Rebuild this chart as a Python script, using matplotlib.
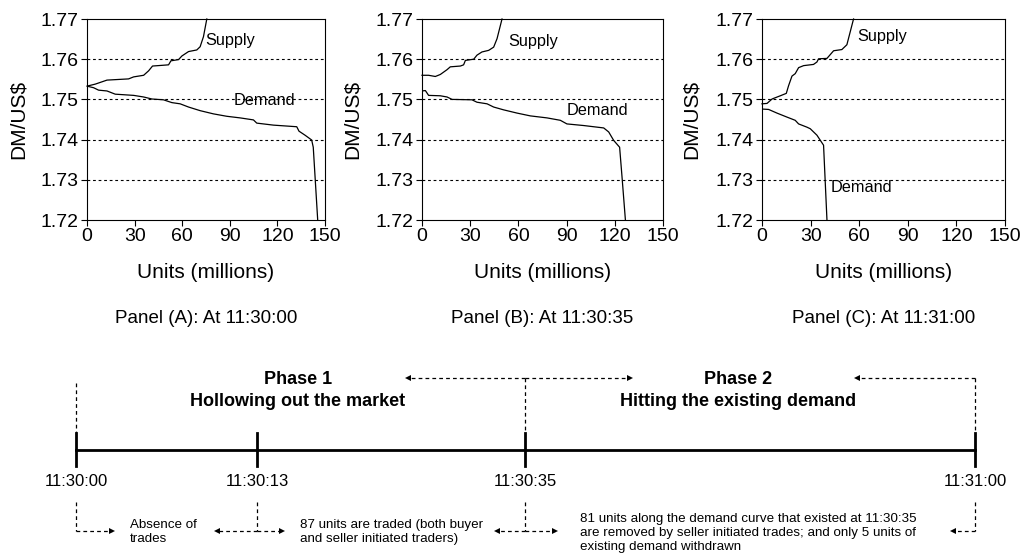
import matplotlib.pyplot as plt
import numpy as np

plt.rcParams['font.family'] = ['Liberation Sans', 'DejaVu Sans']

# --- order book curves (units in millions, DM/US$) ---
supply_a_x = [0, 5.2, 12.6, 26.2, 29.4, 35.7, 38.8, 41.3, 48.2, 51.4, 52.9, 57.7, 59.8, 64.0, 69.2, 71.3, 73.4, 75.5]
supply_a_y = [1.7533, 1.7538, 1.7548, 1.7551, 1.7556, 1.7560, 1.7571, 1.7583, 1.7585, 1.7586, 1.7596, 1.7599,
              1.7608, 1.7619, 1.7623, 1.7631, 1.7656, 1.77]
demand_a_x = [0, 4.2, 7.3, 12.6, 17.8, 29.4, 35.7, 40.9, 48.2, 53.5, 58.7, 64.0, 71.3, 79.7, 88.1, 96.5, 104.9,
              107.0, 117.5, 132.2, 133.6, 137.4, 141.6, 142.6, 145.4]
demand_a_y = [1.7533, 1.7529, 1.7523, 1.7521, 1.7513, 1.7510, 1.7506, 1.7501, 1.7499, 1.7492, 1.7489, 1.7481,
              1.7472, 1.7464, 1.7458, 1.7454, 1.7449, 1.7441, 1.7436, 1.7432, 1.7421, 1.7411, 1.7399, 1.7381, 1.72]

supply_b_x = [0, 4.1, 8.3, 11.4, 15.6, 17.6, 23.9, 25.9, 27.0, 32.2, 34.2, 37.3, 41.5, 44.6, 46.7, 49.8]
supply_b_y = [1.7560, 1.7560, 1.7557, 1.7562, 1.7574, 1.7581, 1.7583, 1.7586, 1.7597, 1.7600, 1.7610, 1.7618,
              1.7622, 1.7630, 1.7651, 1.77]
demand_b_x = [0, 2.1, 4.1, 11.4, 15.6, 18.7, 31.1, 34.2, 40.5, 44.6, 50.8, 59.1, 67.4, 77.8, 86.1, 90.2, 100.6,
              113.1, 116.2, 119.3, 123.0, 124.5, 126.6]
demand_b_y = [1.7521, 1.7522, 1.7510, 1.7509, 1.7506, 1.7500, 1.7499, 1.7493, 1.7489, 1.7481, 1.7474, 1.7466,
              1.7459, 1.7454, 1.7448, 1.7439, 1.7435, 1.7429, 1.7419, 1.7398, 1.7381, 1.7307, 1.72]

supply_c_x = [0, 3.1, 6.2, 11.3, 15.0, 16.4, 18.5, 20.5, 22.6, 25.7, 31.8, 33.9, 34.9, 40.1, 44.2, 49.3, 52.4, 56.5]
supply_c_y = [1.7489, 1.7490, 1.7501, 1.7509, 1.7515, 1.7534, 1.7558, 1.7564, 1.7579, 1.7584, 1.7587, 1.7593,
              1.7601, 1.7602, 1.7621, 1.7624, 1.7636, 1.77]
demand_c_x = [0, 4.1, 9.2, 15.4, 20.5, 22.6, 27.7, 29.8, 33.9, 38.0, 40.1]
demand_c_y = [1.7476, 1.7475, 1.7466, 1.7456, 1.7448, 1.7439, 1.7431, 1.7427, 1.7411, 1.7386, 1.72]

panel_titles = ['Panel (A): At 11:30:00', 'Panel (B): At 11:30:35', 'Panel (C): At 11:31:00']
supply_label_pos = [(74.5, 1.7646), (53.9, 1.7645), (59.0, 1.7657)]
demand_label_pos = [(92.3, 1.7497), (90.2, 1.7473), (42.5, 1.7280)]

# --- timeline ---
times = ['11:30:00', '11:30:13', '11:30:35', '11:31:00']
time_x = [76, 257, 525, 975]   # schematic positions (not to scale)

fig = plt.figure(figsize=(10.3, 5.54), dpi=100)

axes_lefts = [87, 422, 762]
axes_widths = [238, 241, 243]
curves = [(supply_a_x, supply_a_y, demand_a_x, demand_a_y),
          (supply_b_x, supply_b_y, demand_b_x, demand_b_y),
          (supply_c_x, supply_c_y, demand_c_x, demand_c_y)]

for i in range(3):
    ax = fig.add_axes([axes_lefts[i] / 1030, 1 - 220 / 554, axes_widths[i] / 1030, 201 / 554])
    sx, sy, dx, dy = curves[i]
    ax.plot(sx, sy, color='black', lw=0.9, clip_on=False)
    ax.plot(dx, dy, color='black', lw=0.9)
    for g in [1.73, 1.74, 1.75, 1.76]:
        ax.axhline(g, color='black', lw=0.8, ls=(0, (2.5, 2.5)))
    ax.set_xlim(0, 150)
    ax.set_ylim(1.72, 1.77)
    ax.set_xticks(np.arange(0, 151, 30))
    ax.set_yticks([1.72, 1.73, 1.74, 1.75, 1.76, 1.77])
    ax.set_yticklabels(['%.2f' % v for v in [1.72, 1.73, 1.74, 1.75, 1.76, 1.77]])
    ax.tick_params(labelsize=14, length=4, width=0.8, pad=2)
    for s in ax.spines.values():
        s.set_linewidth(0.8)
    ax.text(*supply_label_pos[i], 'Supply', fontsize=11.7, ha='left', va='center')
    ax.text(*demand_label_pos[i], 'Demand', fontsize=11.7, ha='left', va='center')
    ax.text(-0.29, 0.5, 'DM/US$', rotation=90, fontsize=15, ha='center', va='center', transform=ax.transAxes)
    ax.text(0.5, -0.26, 'Units (millions)', fontsize=15, ha='center', va='center', transform=ax.transAxes)
    ax.text(0.5, -0.49, panel_titles[i], fontsize=13.5, ha='center', va='center', transform=ax.transAxes)

# overlay for the timeline diagram (pixel-like coordinates)
tl = fig.add_axes([0, 0, 1, 1])
tl.set_xlim(0, 1030)
tl.set_ylim(554, 0)
tl.axis('off')
tl.patch.set_alpha(0)

dash = (0, (3, 2.5))
kw = dict(color='black', lw=0.9, ls=dash)

def arrow(x0, x1, y):
    tl.plot([x0, x1], [y, y], **kw)
    tl.plot(x1, y, marker='>' if x1 > x0 else '<', color='black', ms=5, mew=0)

# main line and ticks
tl.plot([time_x[0], time_x[-1]], [450, 450], color='black', lw=2)
for x, t in zip(time_x, times):
    tl.plot([x, x], [433, 466], color='black', lw=2)
    tl.text(x, 481, t, fontsize=12, ha='center', va='center')

# upper phase brackets
tl.plot([time_x[0], time_x[0]], [383, 433], **kw)
tl.plot([time_x[2], time_x[2]], [378, 433], **kw)
tl.plot([time_x[3], time_x[3]], [378, 433], **kw)
arrow(time_x[2], 408, 378)
arrow(time_x[2], 630, 378)
arrow(time_x[3], 857, 378)
tl.text(298, 379, 'Phase 1', fontsize=13, fontweight='bold', ha='center', va='center')
tl.text(298, 402, 'Hollowing out the market', fontsize=13, fontweight='bold', ha='center', va='center')
tl.text(738, 379, 'Phase 2', fontsize=13, fontweight='bold', ha='center', va='center')
tl.text(738, 402, 'Hitting the existing demand', fontsize=13, fontweight='bold', ha='center', va='center')

# lower interval brackets
for x in time_x:
    tl.plot([x, x], [502, 531], **kw)
arrow(time_x[0], 112, 531)
arrow(time_x[1], 217, 531)
arrow(time_x[1], 282, 531)
arrow(time_x[2], 497, 531)
arrow(time_x[2], 555, 531)
arrow(time_x[3], 953, 531)

tl.text(130, 532, 'Absence of\ntrades', fontsize=9.6, ha='left', va='center', linespacing=1.2)
tl.text(300, 532, '87 units are traded (both buyer\nand seller initiated traders)', fontsize=9.6,
        ha='left', va='center', linespacing=1.2)
tl.text(580, 533, '81 units along the demand curve that existed at 11:30:35\n'
        'are removed by seller initiated trades; and only 5 units of\nexisting demand withdrawn',
        fontsize=9.6, ha='left', va='center', linespacing=1.2)

fig.savefig('out.png', dpi=100)
